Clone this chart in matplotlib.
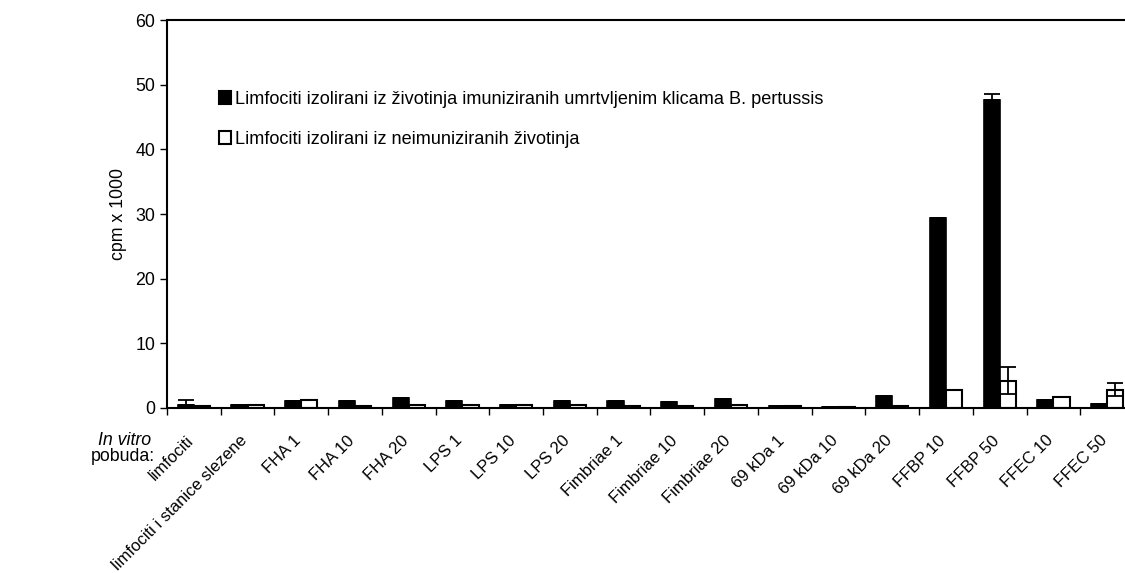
import numpy as np
import matplotlib
matplotlib.use("Agg")
from matplotlib import pyplot as plt
from matplotlib.patches import Patch
from matplotlib.transforms import ScaledTranslation

# categories and values (cpm x 1000)
categories = ["limfociti", "limfociti i stanice slezene", "FHA 1", "FHA 10", "FHA 20",
              "LPS 1", "LPS 10", "LPS 20", "Fimbriae 1", "Fimbriae 10", "Fimbriae 20",
              "69 kDa 1", "69 kDa 10", "69 kDa 20", "FFBP 10", "FFBP 50", "FFEC 10", "FFEC 50"]
immunized = [0.5, 0.4, 1.1, 1.1, 1.6, 1.1, 0.4, 1.1, 1.1, 1.0, 1.4, 0.3, 0.2, 1.8, 29.4, 47.6, 1.3, 0.6]
immunized_err = [0.7, 0, 0, 0, 0, 0, 0, 0, 0, 0, 0, 0, 0, 0, 0, 0.9, 0, 0]
control = [0.3, 0.4, 1.2, 0.3, 0.4, 0.4, 0.4, 0.5, 0.3, 0.3, 0.5, 0.3, 0.2, 0.3, 2.8, 4.2, 1.7, 2.8]
control_err = [0, 0, 0, 0, 0, 0, 0, 0, 0, 0, 0, 0, 0, 0, 0, 2.1, 0, 1.0]

label_imm = "Limfociti izolirani iz životinja imuniziranih umrtvljenim klicama B. pertussis"
label_ctl = "Limfociti izolirani iz neimuniziranih životinja"

plt.rcParams['font.family'] = ['Liberation Sans', 'DejaVu Sans']
fs = 12.8

fig = plt.figure(figsize=(11.25, 5.73), dpi=100)
ax = fig.add_axes([0.1484, 0.288, 1.008 - 0.1484, 0.965 - 0.288])

x = np.arange(len(categories))
w = 0.3
errkw = dict(ecolor='black', elinewidth=1.3, capsize=5.5, capthick=1.3)
ax.bar(x - w / 2, immunized, w, color='black', edgecolor='black', linewidth=1.2,
       yerr=[np.zeros(len(x)), immunized_err], error_kw=errkw)
ax.bar(x + w / 2, control, w, color='white', edgecolor='black', linewidth=1.5,
       yerr=control_err, error_kw=errkw)

ax.set_xlim(-0.5, len(categories) - 0.5)
ax.set_ylim(0, 60)
ax.set_yticks(range(0, 61, 10))
ax.tick_params(axis='y', labelsize=fs, length=5, width=1, direction='out')
ax.set_ylabel("cpm x 1000", fontsize=fs, labelpad=6)

ax.set_xticks(x)
ax.set_xticklabels(categories, rotation=45, ha='right', rotation_mode='anchor', fontsize=12)
ax.tick_params(axis='x', which='major', length=0, pad=18)
# nudge the rotated labels a little to the left, like the original
shift = ScaledTranslation(-0.08, 0, fig.dpi_scale_trans)
for lbl in ax.get_xticklabels():
    lbl.set_transform(lbl.get_transform() + shift)
ax.set_xticks(np.arange(-0.5, len(categories), 1), minor=True)
ax.tick_params(axis='x', which='minor', length=5, width=1, direction='out')

for side in ['left', 'bottom', 'top']:
    ax.spines[side].set_linewidth(1.5)
ax.spines['right'].set_visible(False)

handles = [Patch(facecolor='black', edgecolor='black', linewidth=1.5),
           Patch(facecolor='white', edgecolor='black', linewidth=1.5)]
ax.legend(handles, [label_imm, label_ctl], loc='upper left', bbox_to_anchor=(0.046, 0.836),
          frameon=False, fontsize=13.1, handlelength=0.68, handleheight=0.68,
          handletextpad=0.2, labelspacing=1.25, borderaxespad=0)

fig.text(0.134, 0.232, "In vitro", fontsize=fs, style='italic', ha='right', va='center')
fig.text(0.138, 0.203, "pobuda:", fontsize=fs, ha='right', va='center')

fig.savefig("out.png", dpi=100)
